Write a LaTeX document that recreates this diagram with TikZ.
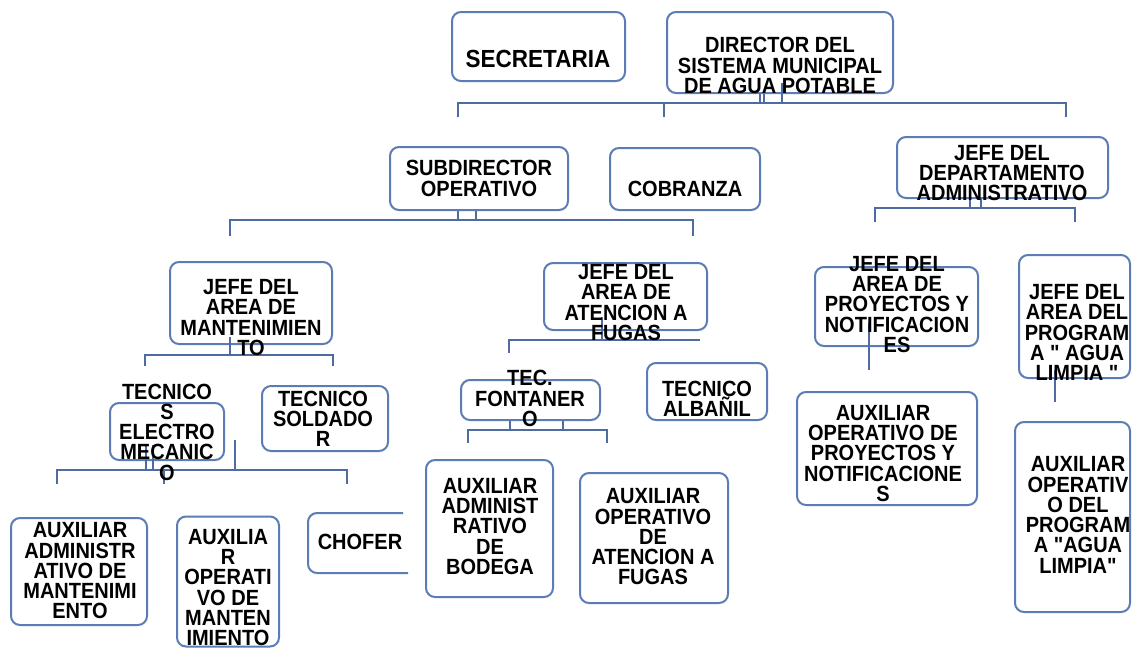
\documentclass[tikz,border=0pt]{standalone}
\usepackage{fontspec}
\usepackage{graphicx}
\setmainfont{Liberation Sans}[Ligatures=TeXOff]
\definecolor{boxblue}{RGB}{92,124,182}
\definecolor{linecol}{RGB}{78,108,162}
\newcommand{\tl}[1]{\scalebox{1}[1.1]{\vbox{\baselineskip=18.4pt\lineskiplimit=-50pt\lineskip=0pt\let\\\cr\halign{\hfil##\hfil\cr#1\crcr}}}}
\begin{document}
\begin{tikzpicture}[x=1pt,y=-1pt,
  bx/.style={draw=boxblue, line width=2pt, rounded corners=9pt, inner sep=0pt},
  txt/.style={font=\bfseries\fontsize{20}{18.4}\selectfont, inner sep=0pt, text=black},
  conn/.style={draw=linecol, line width=2pt}]
\useasboundingbox[fill=white] (0,0) rectangle (1133,649);

% ---------- boxes ----------
\node[bx, minimum width=173pt, minimum height=69pt]  (sec) at (538.5,46.5) {};
\node[bx, minimum width=226pt, minimum height=81pt]  (dir) at (780,52.5) {};
\node[bx, minimum width=178pt, minimum height=63pt]  (sub) at (479,178.5) {};
\node[bx, minimum width=150pt, minimum height=62pt]  (cob) at (685,179) {};
\node[bx, minimum width=211pt, minimum height=61pt]  (jda) at (1002.5,167.5) {};
\node[bx, minimum width=162pt, minimum height=82pt]  (jam) at (251,303) {};
\node[bx, minimum width=163pt, minimum height=67pt]  (jaf) at (625.5,296.5) {};
\node[bx, minimum width=163pt, minimum height=79pt]  (jap) at (896.5,306.5) {};
\node[bx, minimum width=111pt, minimum height=123pt] (jal) at (1074.5,316.5) {};
\node[bx, minimum width=180pt, minimum height=113pt] (aop) at (887,448.5) {};
\node[bx, minimum width=115pt, minimum height=190pt] (aol) at (1072.5,517) {};
\node[bx, minimum width=114pt, minimum height=57pt]  (tem) at (167,431.5) {};
\node[bx, minimum width=126pt, minimum height=65pt]  (tso) at (325,418.5) {};
\node[bx, minimum width=139pt, minimum height=40pt]  (tfo) at (530.5,400) {};
\node[bx, minimum width=120pt, minimum height=57pt]  (tal) at (707,391.5) {};
\node[bx, minimum width=136pt, minimum height=107pt] (aam) at (79,571.5) {};
\node[bx, minimum width=102pt, minimum height=130pt] (aom) at (228,581.5) {};
\node[bx, minimum width=127pt, minimum height=137pt] (aab) at (489.5,528.5) {};
\node[bx, minimum width=148pt, minimum height=130pt] (aof) at (654,538) {};
% CHOFER: box open on the right
\coordinate (choA) at (403,513);
\coordinate (choB) at (408,573);
\draw[draw=boxblue, line width=2pt, rounded corners=9pt] (choA) -- (308,513) -- (308,573) -- (choB);

% ---------- connectors ----------
% director
\coordinate (dL) at (458,103); \coordinate (dM) at (664,103); \coordinate (dR) at (1066,103);
\coordinate (dLb) at (458,117); \coordinate (dMb) at (664,117); \coordinate (dRb) at (1066,117);
\coordinate (ds1) at (760,103); \coordinate (ds2) at (764,103); \coordinate (ds3) at (782,103);
\coordinate (ds3t) at (782,83);
\draw[conn] (dLb) -- (dL) -- (dR) -- (dRb);
\draw[conn] (dM) -- (dMb);
\draw[conn] (ds1 |- dir.south) -- (ds1);
\draw[conn] (ds2 |- dir.south) -- (ds2);
\draw[conn] (ds3t) -- (ds3);
% subdirector
\coordinate (sL) at (230,220); \coordinate (sR) at (693,220);
\coordinate (sLb) at (230,236); \coordinate (sRb) at (693,236);
\coordinate (ss1) at (458,220); \coordinate (ss2) at (476,220);
\draw[conn] (sLb) -- (sL) -- (sR) -- (sRb);
\draw[conn] (ss1 |- sub.south) -- (ss1);
\draw[conn] (ss2 |- sub.south) -- (ss2);
% jefe depto administrativo
\coordinate (aL) at (875,208); \coordinate (aR) at (1075,208);
\coordinate (aLb) at (875,222); \coordinate (aRb) at (1075,222);
\coordinate (as1) at (970,208); \coordinate (as2) at (981,208);
\draw[conn] (aLb) -- (aL) -- (aR) -- (aRb);
\draw[conn] (as1 |- jda.south) -- (as1);
\draw[conn] (as2 |- jda.south) -- (as2);
% jefe mantenimiento
\coordinate (mT) at (230,337); \coordinate (mM) at (230,355);
\coordinate (mL) at (145,355); \coordinate (mR) at (333,355);
\coordinate (mLb) at (145,366); \coordinate (mRb) at (333,366);
\draw[conn] (mT) -- (mM);
\draw[conn] (mLb) -- (mL) -- (mR) -- (mRb);
% jefe atencion a fugas
\coordinate (fT) at (602,317); \coordinate (fM) at (602,340);
\coordinate (fL) at (509,340); \coordinate (fR) at (700,340);
\coordinate (fLb) at (509,353);
\draw[conn] (fT) -- (fM);
\draw[conn] (fLb) -- (fL) -- (fR);
% jefe proyectos
\coordinate (pT) at (869,323); \coordinate (pB) at (869,370);
\draw[conn] (pT) -- (pB);
% jefe agua limpia
\coordinate (lT) at (1055,370); \coordinate (lB) at (1055,402);
\draw[conn] (lT) -- (lB);
% tecnicos electromecanico
\coordinate (eL) at (57,470); \coordinate (eR) at (347,470); \coordinate (eM) at (164,470);
\coordinate (eLb) at (57,484); \coordinate (eRb) at (347,484); \coordinate (eMb) at (164,484);
\coordinate (es1) at (146,470); \coordinate (es2) at (153,470);
\coordinate (es1t) at (146,445); \coordinate (es2t) at (153,445);
\coordinate (es3) at (235,470); \coordinate (es3t) at (235,440);
\draw[conn] (eLb) -- (eL) -- (eR) -- (eRb);
\draw[conn] (eM) -- (eMb);
\draw[conn] (es1t) -- (es1);
\draw[conn] (es2t) -- (es2);
\draw[conn] (es3t) -- (es3);
% tec. fontanero
\coordinate (oL) at (468,430); \coordinate (oR) at (607,430);
\coordinate (oLb) at (468,443); \coordinate (oRb) at (607,443);
\coordinate (os1) at (510,430); \coordinate (os2) at (563,430);
\draw[conn] (oLb) -- (oL) -- (oR) -- (oRb);
\draw[conn] (os1 |- tfo.south) -- (os1);
\draw[conn] (os2 |- tfo.south) -- (os2);

% ---------- texts ----------
\node[txt, font=\bfseries\fontsize{22.5}{18.4}\selectfont] (tsec) at (538,59) {\tl{SECRETARIA}};
\node[txt] (tdir) at (780,65.5) {\tl{DIRECTOR DEL\\SISTEMA MUNICIPAL\\DE AGUA POTABLE}};
\node[txt] (tsub) at (479,178.5) {\tl{SUBDIRECTOR\\OPERATIVO}};
\node[txt] (tcob) at (685,189) {\tl{COBRANZA}};
\node[txt] (tjda) at (1002,173) {\tl{JEFE DEL\\DEPARTAMENTO\\ADMINISTRATIVO}};
\node[txt] (tjam) at (251,317.5) {\tl{JEFE DEL\\AREA DE\\MANTENIMIEN\\TO}};
\node[txt] (tjaf) at (626,302.5) {\tl{JEFE DEL\\AREA DE\\ATENCION A\\FUGAS}};
\node[txt] (tjap) at (897,304.5) {\tl{JEFE DEL\\AREA DE\\PROYECTOS Y\\NOTIFICACION\\ES}};
\node[txt] (tjal) at (1077,332.5) {\tl{JEFE DEL\\AREA DEL\\PROGRAM\\A " AGUA\\LIMPIA "}};
\node[txt] (taop) at (883,453.5) {\tl{AUXILIAR\\OPERATIVO DE\\PROYECTOS Y\\NOTIFICACIONE\\S}};
\node[txt] (taol) at (1078,515) {\tl{AUXILIAR\\OPERATIV\\O DEL\\PROGRAM\\A "AGUA\\LIMPIA"}};
\node[txt] (ttem) at (167,432) {\tl{TECNICO\\S\\ELECTRO\\MECANIC\\O}};
\node[txt] (ttso) at (323,419) {\tl{TECNICO\\SOLDADO\\R}};
\node[txt] (ttfo) at (530,398.5) {\tl{TEC.\\FONTANER\\O}};
\node[txt] (ttal) at (707,399) {\tl{TECNICO\\ALBAÑIL}};
\node[txt] (taam) at (80,571) {\tl{AUXILIAR\\ADMINISTR\\ATIVO DE\\MANTENIMI\\ENTO}};
\node[txt] (taom) at (228,587.5) {\tl{AUXILIA\\R\\OPERATI\\VO DE\\MANTEN\\IMIENTO}};
\node[txt] (tcho) at (360,542) {\tl{CHOFER}};
\node[txt] (taab) at (490,526.5) {\tl{AUXILIAR\\ADMINIST\\RATIVO\\DE\\BODEGA}};
\node[txt] (taof) at (653,537) {\tl{AUXILIAR\\OPERATIVO\\DE\\ATENCION A\\FUGAS}};
\end{tikzpicture}
\end{document}
